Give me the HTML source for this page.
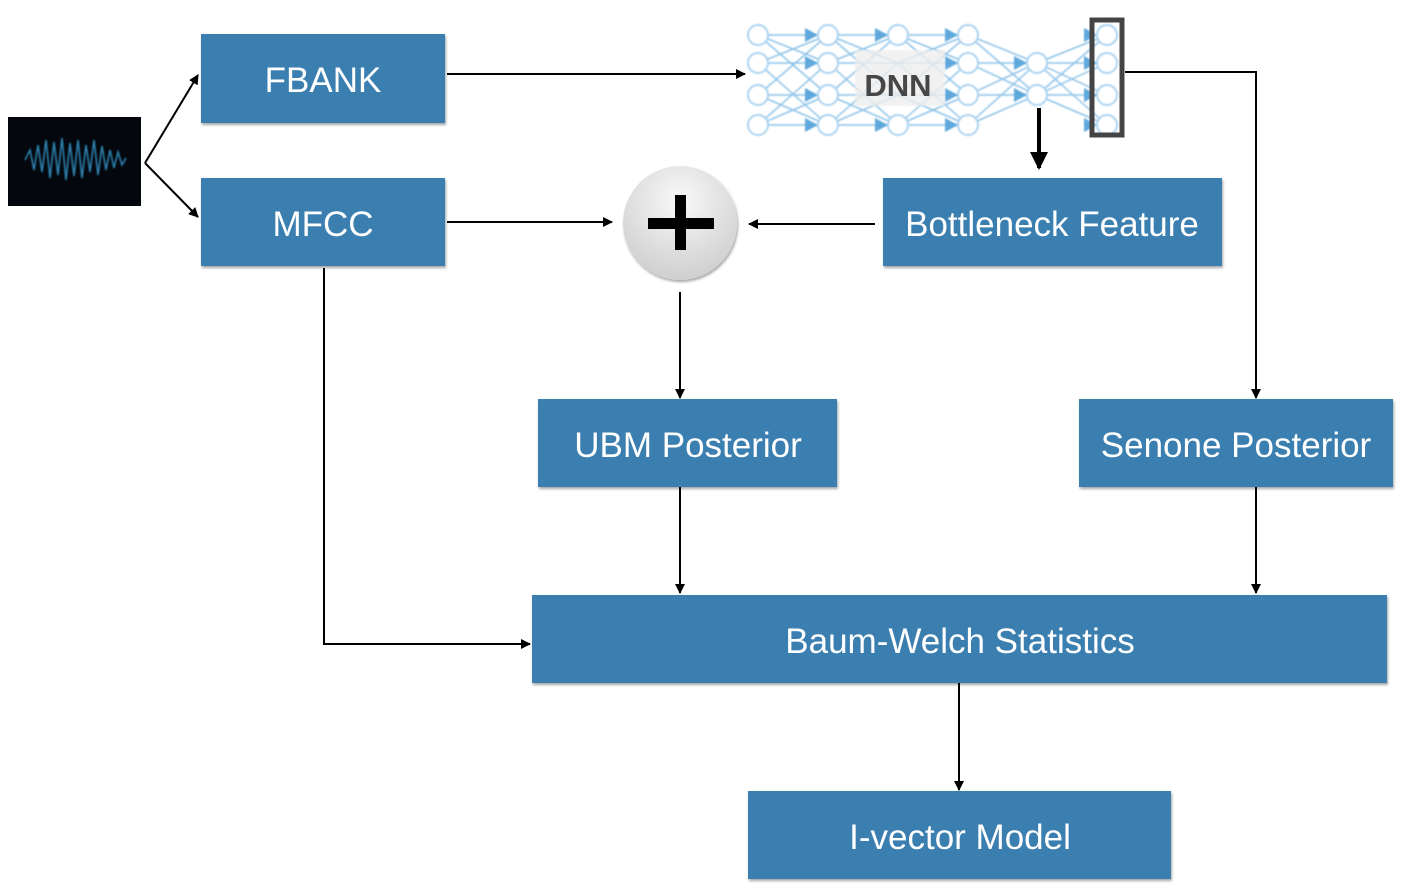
<!DOCTYPE html>
<html><head><meta charset="utf-8"><style>
html,body{margin:0;padding:0;background:#fff;width:1402px;height:890px;overflow:hidden}
</style></head><body>
<svg width="1402" height="890" xmlns="http://www.w3.org/2000/svg" font-family="Liberation Sans, sans-serif">
<defs>
<marker id="ah" markerWidth="10" markerHeight="10" refX="9" refY="5" orient="auto" markerUnits="userSpaceOnUse"><path d="M0,0 L10,5 L0,10 z" fill="#000"/></marker>
<marker id="ah2" markerWidth="18" markerHeight="18" refX="16" refY="9" orient="auto" markerUnits="userSpaceOnUse"><path d="M0,0 L18,9 L0,18 z" fill="#000"/></marker>
<marker id="bh" markerWidth="12" markerHeight="12" refX="11" refY="6" orient="auto" markerUnits="userSpaceOnUse"><path d="M0,0 L12,6 L0,12 z" fill="#6aaedd"/></marker>
<radialGradient id="pg" cx="50%" cy="30%" r="70%"><stop offset="0" stop-color="#f8f8f8"/><stop offset="1" stop-color="#cfcfcf"/></radialGradient>
<linearGradient id="wv" x1="0" x2="1"><stop offset="0" stop-color="#0a1a30"/><stop offset="0.5" stop-color="#8ae0ff"/><stop offset="1" stop-color="#0a1a30"/></linearGradient>
<filter id="sh"><feDropShadow dx="1" dy="2" stdDeviation="1.2" flood-opacity="0.35"/></filter>
<filter id="bl"><feGaussianBlur stdDeviation="0.8"/></filter>
</defs>
<g fill="#3a7fb1" filter="url(#sh)">
<rect x="201" y="34" width="244" height="89"/>
<rect x="201" y="178" width="244" height="88"/>
<rect x="883" y="178" width="339" height="88"/>
<rect x="538" y="399" width="299" height="88"/>
<rect x="1079" y="399" width="314" height="88"/>
<rect x="532" y="595" width="855" height="88"/>
<rect x="748" y="791" width="423" height="88"/>
</g>
<g fill="#fff" font-size="35" text-anchor="middle">
<text x="323" y="92">FBANK</text>
<text x="323" y="236">MFCC</text>
<text x="1052" y="236">Bottleneck Feature</text>
<text x="688" y="457">UBM Posterior</text>
<text x="1236" y="457">Senone Posterior</text>
<text x="960" y="653">Baum-Welch Statistics</text>
<text x="960" y="849">I-vector Model</text>
</g>
<!-- waveform -->
<rect x="8" y="117" width="133" height="89" fill="#04070d"/>
<g filter="url(#bl)">
<path d="M25,160 L30,150 L34,170 L38,145 L42,172 L46,140 L50,178 L54,142 L58,175 L62,138 L66,180 L70,143 L74,176 L78,140 L82,178 L86,145 L90,172 L94,140 L98,175 L102,146 L106,170 L110,150 L114,168 L118,152 L122,165 L126,158" fill="none" stroke="#3aa8e0" stroke-width="1.5" opacity="0.8"/>
<line x1="12" y1="160" x2="138" y2="160" stroke="url(#wv)" stroke-width="4"/>
</g>
<!-- DNN -->
<g stroke="#8cc2e8" stroke-width="1.5" filter="url(#bl)">
<path d="M758,35 L828,63 M758,35 L828,95 M758,63 L828,35 M758,63 L828,125 M758,95 L828,35 M758,95 L828,125 M758,125 L828,63 M758,125 L828,95 M758,35 H828 M758,63 H828 M758,95 H828 M758,125 H828"/>
<path d="M828,35 L898,63 M828,35 L898,95 M828,63 L898,35 M828,63 L898,125 M828,95 L898,35 M828,95 L898,125 M828,125 L898,63 M828,125 L898,95 M828,35 H898 M828,63 H898 M828,95 H898 M828,125 H898"/>
<path d="M898,35 L968,63 M898,35 L968,95 M898,63 L968,35 M898,63 L968,125 M898,95 L968,35 M898,95 L968,125 M898,125 L968,63 M898,125 L968,95 M898,35 H968 M898,63 H968 M898,95 H968 M898,125 H968"/>
<path d="M968,35 L1037,63 M968,63 L1037,63 M968,95 L1037,63 M968,125 L1037,63 M968,35 L1037,95 M968,63 L1037,95 M968,95 L1037,95 M968,125 L1037,95"/>
<path d="M1037,63 L1107,35 M1037,63 L1107,63 M1037,63 L1107,95 M1037,63 L1107,125 M1037,95 L1107,35 M1037,95 L1107,63 M1037,95 L1107,95 M1037,95 L1107,125"/>
</g>
<g fill="#5fa8dc" filter="url(#bl)">
<path d="M805,28 L818,35 L805,42z M805,56 L818,63 L805,70z M805,88 L818,95 L805,102z M805,118 L818,125 L805,132z"/>
<path d="M875,28 L888,35 L875,42z M875,118 L888,125 L875,132z"/>
<path d="M945,28 L958,35 L945,42z M945,56 L958,63 L945,70z M945,88 L958,95 L945,102z M945,118 L958,125 L945,132z"/>
<path d="M1014,56 L1027,63 L1014,70z M1014,88 L1027,95 L1014,102z"/>
<path d="M1084,28 L1097,35 L1084,42z M1084,56 L1097,63 L1084,70z M1084,88 L1097,95 L1084,102z M1084,118 L1097,125 L1084,132z"/>
</g>
<rect x="855" y="50" width="90" height="56" fill="#eeeeee" opacity="0.8" filter="url(#bl)"/>
<g fill="#fff" stroke="#a8d2f0" stroke-width="2" filter="url(#bl)">
<circle cx="758" cy="35" r="10"/><circle cx="758" cy="63" r="10"/><circle cx="758" cy="95" r="10"/><circle cx="758" cy="125" r="10"/>
<circle cx="828" cy="35" r="10"/><circle cx="828" cy="63" r="10"/><circle cx="828" cy="95" r="10"/><circle cx="828" cy="125" r="10"/>
<circle cx="898" cy="35" r="10"/><circle cx="898" cy="125" r="10"/>
<circle cx="968" cy="35" r="10"/><circle cx="968" cy="63" r="10"/><circle cx="968" cy="95" r="10"/><circle cx="968" cy="125" r="10"/>
<circle cx="1037" cy="63" r="10"/><circle cx="1037" cy="95" r="10"/>
<circle cx="1107" cy="35" r="10"/><circle cx="1107" cy="63" r="10"/><circle cx="1107" cy="95" r="10"/><circle cx="1107" cy="125" r="10"/>
</g>
<text x="898" y="96" font-size="31" fill="#2a2a2a" text-anchor="middle" font-weight="bold" opacity="0.85">DNN</text>
<rect x="1092" y="20" width="30" height="115" fill="none" stroke="#444" stroke-width="5"/>
<!-- plus -->
<circle cx="680" cy="223" r="57" fill="url(#pg)" filter="url(#sh)"/>
<rect x="648" y="218" width="66" height="11" fill="#000"/>
<rect x="675" y="195" width="11" height="55" fill="#000"/>
<!-- connectors -->
<g stroke="#000" stroke-width="2" fill="none" marker-end="url(#ah)">
<path d="M145,163 L198,75"/>
<path d="M145,163 L198,217"/>
<path d="M447,74 L745,74"/>
<path d="M447,222 L612,222"/>
<path d="M875,224 L749,224"/>
<path d="M1125,72 L1256,72 L1256,398"/>
<path d="M680,292 L680,398"/>
<path d="M680,487 L680,593"/>
<path d="M1256,487 L1256,593"/>
<path d="M324,268 L324,644 L530,644"/>
<path d="M959,683 L959,790"/>
</g>
<path d="M1039,108 L1039,168" stroke="#000" stroke-width="4" marker-end="url(#ah2)"/>
</svg>
</body></html>
